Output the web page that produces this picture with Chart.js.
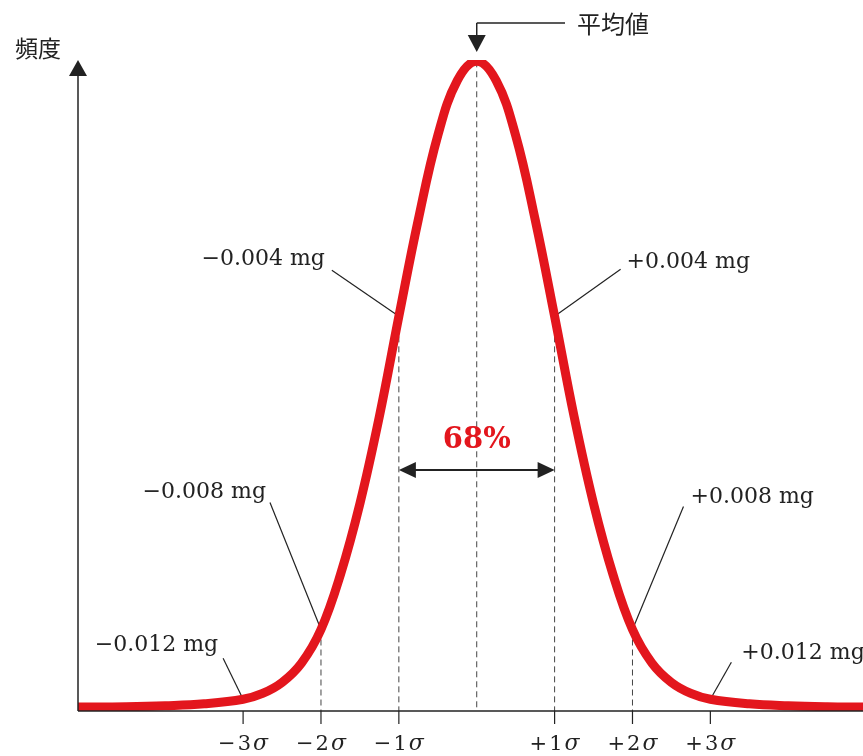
<!DOCTYPE html>
<html>
<head>
<meta charset="utf-8">
<script src="https://cdn.jsdelivr.net/npm/chart.js@4/dist/chart.umd.min.js"></script>
<style>
  html, body { margin: 0; padding: 0; background: #fff; }
  #wrap { width: 863px; height: 756px; }
</style>
</head>
<body>
<div id="wrap"><canvas id="normalChart"></canvas></div>
<script>
// posição em unidades de sigma e frequência relativa (pico = 100)
const sigmaPos = [-5.12, -4.5, -4, -3.5, -3, -2.75, -2.5, -2.25, -2, -1.75, -1.5, -1.25, -1, -0.75, -0.5, -0.25, 0,
                  0.25, 0.5, 0.75, 1, 1.25, 1.5, 1.75, 2, 2.25, 2.5, 2.75, 3, 3.5, 4, 4.5, 4.96];
const frequency = [0, 0.05, 0.2, 0.5, 1.2, 2.1, 3.8, 6.8, 12.0, 20.5, 31.5, 45.0, 60.5, 75.5, 88.5, 97.0, 100,
                   97.0, 88.5, 75.5, 60.5, 45.0, 31.5, 20.5, 12.0, 6.8, 3.8, 2.1, 1.2, 0.5, 0.2, 0.05, 0];

const tickValues = [-3, -2, -1, 1, 2, 3];
const tickSigns = ['−', '−', '−', '+', '+', '+'];
const tickNums = ['3', '2', '1', '1', '2', '3'];
const massLabels = ['−0.012 mg', '−0.008 mg', '−0.004 mg', '+0.004 mg', '+0.008 mg', '+0.012 mg'];
const guideValues = [-2, -1, 0, 1, 2];   // linhas tracejadas
const centerLabel = '68%';
const meanLabel = '平均値';
const yTitle = '頻度';

const RED = '#e3161d';
const INK = '#222';

function curveAt(s) {
    for (let i = 0; i < sigmaPos.length - 1; i++) {
        if (s >= sigmaPos[i] && s <= sigmaPos[i + 1]) {
            const t = (s - sigmaPos[i]) / (sigmaPos[i + 1] - sigmaPos[i]);
            return frequency[i] + t * (frequency[i + 1] - frequency[i]);
        }
    }
    return 0;
}

function line(ctx, x1, y1, x2, y2) {
    ctx.beginPath();
    ctx.moveTo(x1, y1);
    ctx.lineTo(x2, y2);
    ctx.stroke();
}

function triangle(ctx, pts) {
    ctx.beginPath();
    ctx.moveTo(pts[0], pts[1]);
    ctx.lineTo(pts[2], pts[3]);
    ctx.lineTo(pts[4], pts[5]);
    ctx.closePath();
    ctx.fill();
}

// offsets do início da linha de chamada e do texto (pixels)
const leaderLayout = [
    { dx: -20, dy: -41, tx: -5, ty: -13, align: 'right' },
    { dx: -51, dy: -127, tx: -4, ty: -10, align: 'right' },
    { dx: -67, dy: -46, tx: -7, ty: -11, align: 'right' },
    { dx: 66, dy: -47, tx: 6, ty: -7, align: 'left' },
    { dx: 51, dy: -123, tx: 7, ty: -9, align: 'left' },
    { dx: 21, dy: -37, tx: 10, ty: -9, align: 'left' }
];

const underPlugin = {
    id: 'under',
    beforeDatasetsDraw(chart) {
        const ctx = chart.ctx;
        const xs = chart.scales.x;
        const ys = chart.scales.y;
        const area = chart.chartArea;
        ctx.save();

        // linhas tracejadas
        ctx.strokeStyle = '#444';
        ctx.lineWidth = 1;
        ctx.setLineDash([6, 4]);
        guideValues.forEach(s => {
            const x = xs.getPixelForValue(s);
            line(ctx, x, ys.getPixelForValue(curveAt(s)), x, area.bottom);
        });
        ctx.setLineDash([]);

        // linhas de chamada
        ctx.strokeStyle = INK;
        ctx.lineWidth = 1.2;
        ctx.fillStyle = INK;
        ctx.font = '22px "DejaVu Serif"';
        ctx.textBaseline = 'middle';
        tickValues.forEach((s, i) => {
            const ex = xs.getPixelForValue(s);
            const ey = ys.getPixelForValue(curveAt(s));
            const L = leaderLayout[i];
            const sx = ex + L.dx, sy = ey + L.dy;
            line(ctx, sx, sy, ex, ey);
            ctx.textAlign = L.align;
            ctx.fillText(massLabels[i], sx + L.tx, sy + L.ty);
        });
        ctx.restore();
    },
    afterDatasetsDraw(chart) {
        const ctx = chart.ctx;
        const xs = chart.scales.x;
        const area = chart.chartArea;
        ctx.save();
        ctx.strokeStyle = INK;
        ctx.fillStyle = INK;
        ctx.lineWidth = 1.5;

        // eixo x
        line(ctx, area.left, area.bottom, area.right, area.bottom);
        // eixo y com seta
        line(ctx, area.left, area.bottom, area.left, area.top + 14);
        triangle(ctx, [area.left, area.top, area.left - 9, area.top + 16, area.left + 9, area.top + 16]);

        // marcas e rótulos sigma (sigma em itálico)
        ctx.lineWidth = 1.2;
        ctx.textAlign = 'left';
        ctx.textBaseline = 'alphabetic';
        const upright = '21px "DejaVu Serif"';
        const italic = 'italic 22px "DejaVu Serif"';
        tickValues.forEach((s, i) => {
            const x = xs.getPixelForValue(s);
            line(ctx, x, area.bottom, x, area.bottom + 13);
            ctx.font = upright;
            const w1 = ctx.measureText(tickSigns[i]).width;
            const w2 = ctx.measureText(tickNums[i]).width;
            ctx.font = italic;
            const w3 = ctx.measureText('σ').width;
            const gap = 2;
            let cx = x - (w1 + w2 + w3 + 2 * gap) / 2;
            const by = area.bottom + 39;
            ctx.font = upright;
            ctx.fillText(tickSigns[i], cx, by);
            cx += w1 + gap;
            ctx.fillText(tickNums[i], cx, by);
            cx += w2 + gap;
            ctx.font = italic;
            ctx.fillText('σ', cx, by);
        });

        // seta dupla 68%
        const xl = xs.getPixelForValue(-1);
        const xr = xs.getPixelForValue(1);
        const ya = 470;
        ctx.lineWidth = 2;
        line(ctx, xl + 10, ya, xr - 10, ya);
        triangle(ctx, [xl, ya, xl + 17, ya - 8, xl + 17, ya + 8]);
        triangle(ctx, [xr, ya, xr - 17, ya - 8, xr - 17, ya + 8]);
        ctx.fillStyle = RED;
        ctx.font = 'bold 29px "DejaVu Serif"';
        ctx.textAlign = 'center';
        ctx.textBaseline = 'middle';
        ctx.fillText(centerLabel, xs.getPixelForValue(0), 440);

        // média
        const xm = xs.getPixelForValue(0);
        ctx.fillStyle = INK;
        ctx.lineWidth = 1.5;
        line(ctx, xm, 23, 565, 23);
        line(ctx, xm, 23, xm, 38);
        triangle(ctx, [xm, 52, xm - 9, 35, xm + 9, 35]);
        ctx.font = '24px "Noto Sans CJK JP"';
        ctx.textAlign = 'left';
        ctx.fillText(meanLabel, 577, 24);

        // título do eixo y
        ctx.font = '23px "Noto Sans CJK JP"';
        ctx.fillText(yTitle, 15, 48);
        ctx.restore();
    }
};

const ctx = document.getElementById('normalChart').getContext('2d');

const normalChart = new Chart(ctx, {
    type: 'line',
    data: {
        datasets: [{
            data: sigmaPos.map((s, i) => ({ x: s, y: frequency[i] })),
            borderColor: RED,
            borderWidth: 9,
            borderCapStyle: 'butt',
            pointRadius: 0,
            fill: false,
            tension: 0.4
        }]
    },
    options: {
        responsive: true,
        maintainAspectRatio: false,
        animation: false,
        layout: {
            padding: { left: 78, top: 60, right: 0, bottom: 45 }
        },
        plugins: {
            legend: { display: false },
            tooltip: { enabled: false }
        },
        scales: {
            x: { type: 'linear', display: false, min: -5.12, max: 4.96 },
            y: { display: false, min: -0.62, max: 100.2 }
        }
    },
    plugins: [underPlugin]
});
</script>
</body>
</html>
